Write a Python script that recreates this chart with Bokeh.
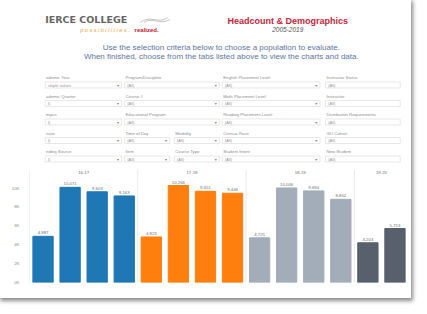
from bokeh.plotting import figure
from bokeh.models import (ColumnDataSource, FactorRange, Range1d, Span,
                          FixedTicker, CustomJSTickFormatter)
from bokeh.layouts import column
from bokeh.core.properties import value
from bokeh.embed import file_html
from bokeh.resources import INLINE

# ---------------- data ----------------
years = ["16-17", "17-18", "18-19", "19-20"]
quarters = ["Summer", "Fall", "Winter", "Spring"]
headcount_1617 = [4887, 10071, 9603, 9163]
headcount_1718 = [4823, 10266, 9651, 9446]
headcount_1819 = [4725, 10006, 9694, 8802]
headcount_1920 = [4203, 5713]
year_colors = ["#1f77b4", "#ff7f0e", "#a3acb9", "#57606c"]
y_ticks = [0, 2000, 4000, 6000, 8000, 10000]

title_text = "Headcount & Demographics"
subtitle_text = "2005-2019"
instr_lines = ["Use the selection criteria below to choose a population to evaluate.",
               "When finished, choose from the tabs listed above to view the charts and data."]

col1_labels = ["ademic Year", "ademic Quarter", "mpus", "ision", "nding Source"]
col1_values = ["ultiple values", "l)", "l)", "l)", "l)"]
col2_labels = ["Program/Discipline", "Course #", "Educational Program"]
col2_split_labels = [("Time of Day", "Modality"), ("Item", "Course Type")]
col3_labels = ["English Placement Level", "Math Placement Level", "Reading Placement Level",
               "Census Race", "Student Intent"]
col4_labels = ["Instructor Status", "Instructor", "Distribution Requirements",
               "GO Cohort", "New Student"]
all_value = "(All)"

FONT = value("Liberation Sans")
W = 411

# ---------------- header / filter panel ----------------
HH = 164
h = figure(width=W, height=HH, x_range=Range1d(0, W), y_range=Range1d(HH, 0),
           x_axis_type=None, y_axis_type=None, toolbar_location=None,
           output_backend="svg", min_border=0)
h.grid.visible = False
h.outline_line_color = None
h.background_fill_color = "white"
h.border_fill_color = "white"

# logo
h.text(x=[17], y=[19], text=["IERCE COLLEGE"], text_font=value("DejaVu Sans"),
       text_font_style="bold", text_font_size="9.5px", text_color="#666666",
       text_baseline="middle", text_align="left")
h.bezier(x0=[120, 124], y0=[22, 22], x1=[150, 152], y1=[17, 19],
         cx0=[130, 133], cy0=[14, 16], cx1=[140, 142], cy1=[24, 25],
         line_color="#c4c4c4", line_width=1)
h.text(x=[55], y=[29], text=["p o s s i b i l i t i e s ."], text_font=FONT,
       text_font_style="italic", text_font_size="5.5px", text_color="#f0a030",
       text_baseline="middle", text_align="left")
h.text(x=[114], y=[29], text=["realized."], text_font=FONT,
       text_font_style="bold", text_font_size="6px", text_color="#c8202f",
       text_baseline="middle", text_align="left")

# title
h.text(x=[280], y=[20], text=[title_text], text_font=FONT, text_font_style="bold",
       text_font_size="9px", text_color="#c41e3a", text_baseline="middle",
       text_align="center")
h.text(x=[280], y=[29], text=[subtitle_text], text_font=FONT, text_font_style="italic",
       text_font_size="6.5px", text_color="#555555", text_baseline="middle",
       text_align="center")

# instructions
h.text(x=[208, 208], y=[47, 56], text=instr_lines, text_font=FONT,
       text_font_size="8px", text_color="#5a76a0", text_baseline="middle",
       text_align="center")

# filter grid
row_label_y = [77, 95.5, 114, 132.5, 151]
box_h = 6
lab_kw = dict(text_font=FONT, text_font_size="4.3px", text_color="#8c8c8c",
              text_baseline="middle", text_align="left")
val_kw = dict(text_font=FONT, text_font_size="4px", text_color="#959595",
              text_baseline="middle", text_align="left")
arrow_kw = dict(text_font=value("DejaVu Sans"), text_font_size="4px", text_color="#808080",
                text_baseline="middle", text_align="center")

def dropdown(x0, x1, y_lab, label, val, arrow=True):
    top = y_lab + 4.5
    h.text(x=[x0 + 1], y=[y_lab], text=[label], **lab_kw)
    h.quad(left=[x0], right=[x1], top=[top], bottom=[top + box_h],
           fill_color="white", line_color="#d8d8d8", line_width=0.6)
    h.text(x=[x0 + 3], y=[top + box_h / 2], text=[val], **val_kw)
    if arrow:
        h.text(x=[x1 - 4], y=[top + box_h / 2], text=["\u25be"], **arrow_kw)

for i, y in enumerate(row_label_y):
    dropdown(17, 100, y, col1_labels[i], col1_values[i])
    if i < 3:
        dropdown(103, 206, y, col2_labels[i], all_value)
    else:
        a, b = col2_split_labels[i - 3]
        dropdown(103, 152, y, a, all_value)
        dropdown(157, 206, y, b, all_value)
    dropdown(209, 315, y, col3_labels[i], all_value)
    dropdown(321, 402, y, col4_labels[i], all_value, arrow=False)

# ---------------- bar chart ----------------
series = [headcount_1617, headcount_1718, headcount_1819, headcount_1920]
xs, tops, cols, labels = [], [], [], []
for yr, vals, c in zip(years, series, year_colors):
    for q, v in zip(quarters, vals):
        xs.append((yr, q))
        tops.append(v)
        cols.append(c)
        labels.append(f"{v:,}")
src = ColumnDataSource(dict(x=xs, top=tops, color=cols, label=labels))

CH = 298 - HH
c = figure(width=W, height=CH,
           x_range=FactorRange(*xs, group_padding=0, factor_padding=0, range_padding=0),
           y_range=Range1d(0, 11960), x_axis_location=None,
           toolbar_location=None, output_backend="svg",
           min_border_left=29, min_border_right=3, min_border_top=5, min_border_bottom=16)
c.grid.visible = False
c.outline_line_color = None
c.background_fill_color = "white"
c.border_fill_color = "white"

for loc in [0, 4, 8, 12]:
    c.add_layout(Span(location=loc, dimension="height", line_color="#e4e4e4",
                      line_width=0.8))

c.vbar(x="x", top="top", width=0.75, color="color", source=src)
c.text(x="x", y="top", text="label", source=src, y_offset=-2,
       text_font=FONT, text_font_size="4.3px", text_color="#707070",
       text_align="center", text_baseline="bottom")
c.text(x=years, y=[11650] * 4, text=years, text_font=FONT, text_font_size="4.3px",
       text_color="#707070", text_align="center", text_baseline="middle")

ya = c.yaxis[0]
ya.ticker = FixedTicker(ticks=y_ticks)
ya.formatter = CustomJSTickFormatter(code="return (tick/1000) + 'K';")
ya.axis_line_color = None
ya.major_tick_line_color = None
ya.minor_tick_line_color = None
ya.major_label_text_font = "Liberation Sans"
ya.major_label_text_font_size = "4.3px"
ya.major_label_text_color = "#888888"
ya.major_label_standoff = 4

layout = column(h, c, spacing=0,
                styles={"box-shadow": "1px 2px 4px 1px rgba(0,0,0,0.45)"})

open("out.html", "w").write(file_html(layout, INLINE))
